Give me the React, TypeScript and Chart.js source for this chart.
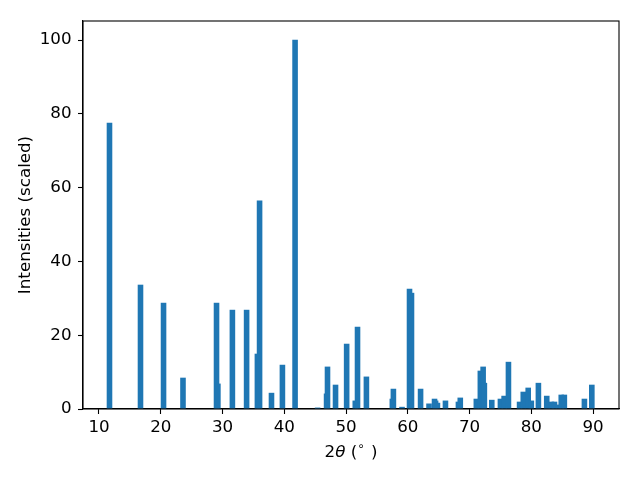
import React, { useEffect, useRef } from "react";
import { Chart, registerables } from "chart.js";

Chart.register(...registerables);

// 2θ peak positions (degrees) and scaled intensities
const twoTheta: number[] = [
  11.70, 16.72, 20.45, 23.60, 29.03, 29.25, 31.60, 33.90, 35.65, 36.00,
  37.93, 39.70, 41.75, 45.40, 46.85, 47.00, 48.30, 50.10, 51.50, 51.86,
  53.30, 57.50, 57.67, 59.07, 60.28, 60.60, 62.07, 63.44, 64.33, 64.50,
  64.80, 66.10, 68.20, 68.50, 71.10, 71.75, 72.20, 72.40, 73.60, 75.00,
  75.60, 76.30, 78.10, 78.70, 79.50, 80.00, 81.15, 82.50, 83.25, 83.75,
  84.40, 84.85, 85.35, 88.60, 89.80,
];
const intensities: number[] = [
  77.5, 33.6, 28.7, 8.4, 28.7, 6.8, 26.8, 26.8, 14.9, 56.4,
  4.3, 11.9, 100, 0.3, 4.1, 11.4, 6.5, 17.6, 2.2, 22.2,
  8.7, 2.7, 5.4, 0.5, 32.5, 31.4, 5.4, 1.4, 2.7, 2.2,
  1.6, 2.2, 1.9, 3.0, 2.7, 10.3, 11.4, 7.0, 2.4, 2.7,
  3.5, 12.7, 1.9, 4.6, 5.7, 2.2, 7.0, 3.5, 1.9, 1.9,
  1.1, 3.8, 3.8, 2.7, 6.5,
];
const xTickValues: number[] = [10, 20, 30, 40, 50, 60, 70, 80, 90];
const yTickValues: number[] = [0, 20, 40, 60, 80, 100];
const xLabelParts = { lead: "2", theta: "θ", open: " (", deg: "∘", close: " )" };
const yLabel = "Intensities (scaled)";

const X_MIN = 7.41;
const X_MAX = 94.2;
const Y_MAX = 105.15;
const BAR_UNITS = 0.8;
const FONT = "DejaVu Sans";
const FS = 16.7;

export default function App() {
  const ref = useRef<HTMLCanvasElement | null>(null);

  useEffect(() => {
    document.body.style.margin = "0";
    const canvas = ref.current;
    if (!canvas) return;

    const frame = {
      id: "frame",
      afterDraw(chart: any) {
        const { ctx, chartArea } = chart;
        ctx.save();
        ctx.strokeStyle = "#000";
        ctx.lineWidth = 1.1;
        ctx.strokeRect(chartArea.left, chartArea.top, chartArea.right - chartArea.left, chartArea.bottom - chartArea.top);
        // x axis label with italic theta and superscript degree
        const cx = (chartArea.left + chartArea.right) / 2;
        const normal = `${FS}px "${FONT}"`;
        const italic = `italic ${FS}px "${FONT}"`;
        const small = `${FS * 0.7}px "${FONT}"`;
        ctx.fillStyle = "#000";
        ctx.textBaseline = "alphabetic";
        ctx.font = normal;
        const w1 = ctx.measureText(xLabelParts.lead).width;
        ctx.font = italic;
        const w2 = ctx.measureText(xLabelParts.theta).width;
        ctx.font = normal;
        const w3 = ctx.measureText(xLabelParts.open).width;
        ctx.font = small;
        const w4 = ctx.measureText(xLabelParts.deg).width + 1;
        ctx.font = normal;
        const w5 = ctx.measureText(xLabelParts.close).width;
        const total = w1 + w2 + w3 + w4 + w5;
        let x = cx - total / 2;
        const base = 456.5;
        ctx.textAlign = "left";
        ctx.font = normal;
        ctx.fillText(xLabelParts.lead, x, base); x += w1;
        ctx.font = italic;
        ctx.fillText(xLabelParts.theta, x, base); x += w2;
        ctx.font = normal;
        ctx.fillText(xLabelParts.open, x, base); x += w3;
        ctx.font = small;
        ctx.fillText(xLabelParts.deg, x, base - 7); x += w4;
        ctx.font = normal;
        ctx.fillText(xLabelParts.close, x, base);
        ctx.restore();
      },
    };

    const plotWidth = 640 - 83 - 21;
    const barPx = (BAR_UNITS * plotWidth) / (X_MAX - X_MIN);

    const chart = new Chart(canvas, {
      type: "bar",
      data: {
        datasets: [
          {
            data: twoTheta.map((x, i) => ({ x, y: intensities[i] })),
            backgroundColor: "#1f77b4",
            borderWidth: 0,
            barThickness: barPx,
          } as any,
        ],
      },
      options: {
        animation: false,
        responsive: false,
        maintainAspectRatio: false,
        layout: { padding: { left: 0, right: 21, top: 21, bottom: 0 } },
        plugins: { legend: { display: false }, tooltip: { enabled: false } },
        scales: {
          x: {
            type: "linear",
            min: X_MIN,
            max: X_MAX,
            offset: false,
            afterBuildTicks: (scale: any) => {
              scale.ticks = xTickValues.map((v) => ({ value: v }));
            },
            afterFit: (scale: any) => {
              scale.height = 71;
            },
            grid: {
              drawOnChartArea: false,
              drawTicks: true,
              tickLength: 5,
              tickColor: "#000",
              tickWidth: 1.1,
              offset: false,
            },
            border: { display: true, color: "#000", width: 1.1 },
            ticks: {
              color: "#000",
              font: { family: FONT, size: FS },
              padding: 4,
              maxRotation: 0,
              autoSkip: false,
            },
          },
          y: {
            type: "linear",
            min: 0,
            max: Y_MAX,
            afterBuildTicks: (scale: any) => {
              scale.ticks = yTickValues.map((v) => ({ value: v }));
            },
            afterFit: (scale: any) => {
              scale.width = 83;
            },
            grid: {
              drawOnChartArea: false,
              drawTicks: true,
              tickLength: 5,
              tickColor: "#000",
              tickWidth: 1.1,
            },
            border: { display: true, color: "#000", width: 1.1 },
            ticks: {
              color: "#000",
              font: { family: FONT, size: FS },
              padding: 6.5,
              autoSkip: false,
            },
            title: {
              display: true,
              text: yLabel,
              color: "#000",
              font: { family: FONT, size: FS },
              padding: { top: 16, bottom: 0 },
            },
          },
        },
      },
      plugins: [frame],
    });

    return () => chart.destroy();
  }, []);

  return (
    <div style={{ position: "absolute", left: 0, top: 0, width: 640, height: 480, background: "#fff" }}>
      <canvas ref={ref} width={640} height={480} style={{ display: "block", width: 640, height: 480 }} />
    </div>
  );
}
